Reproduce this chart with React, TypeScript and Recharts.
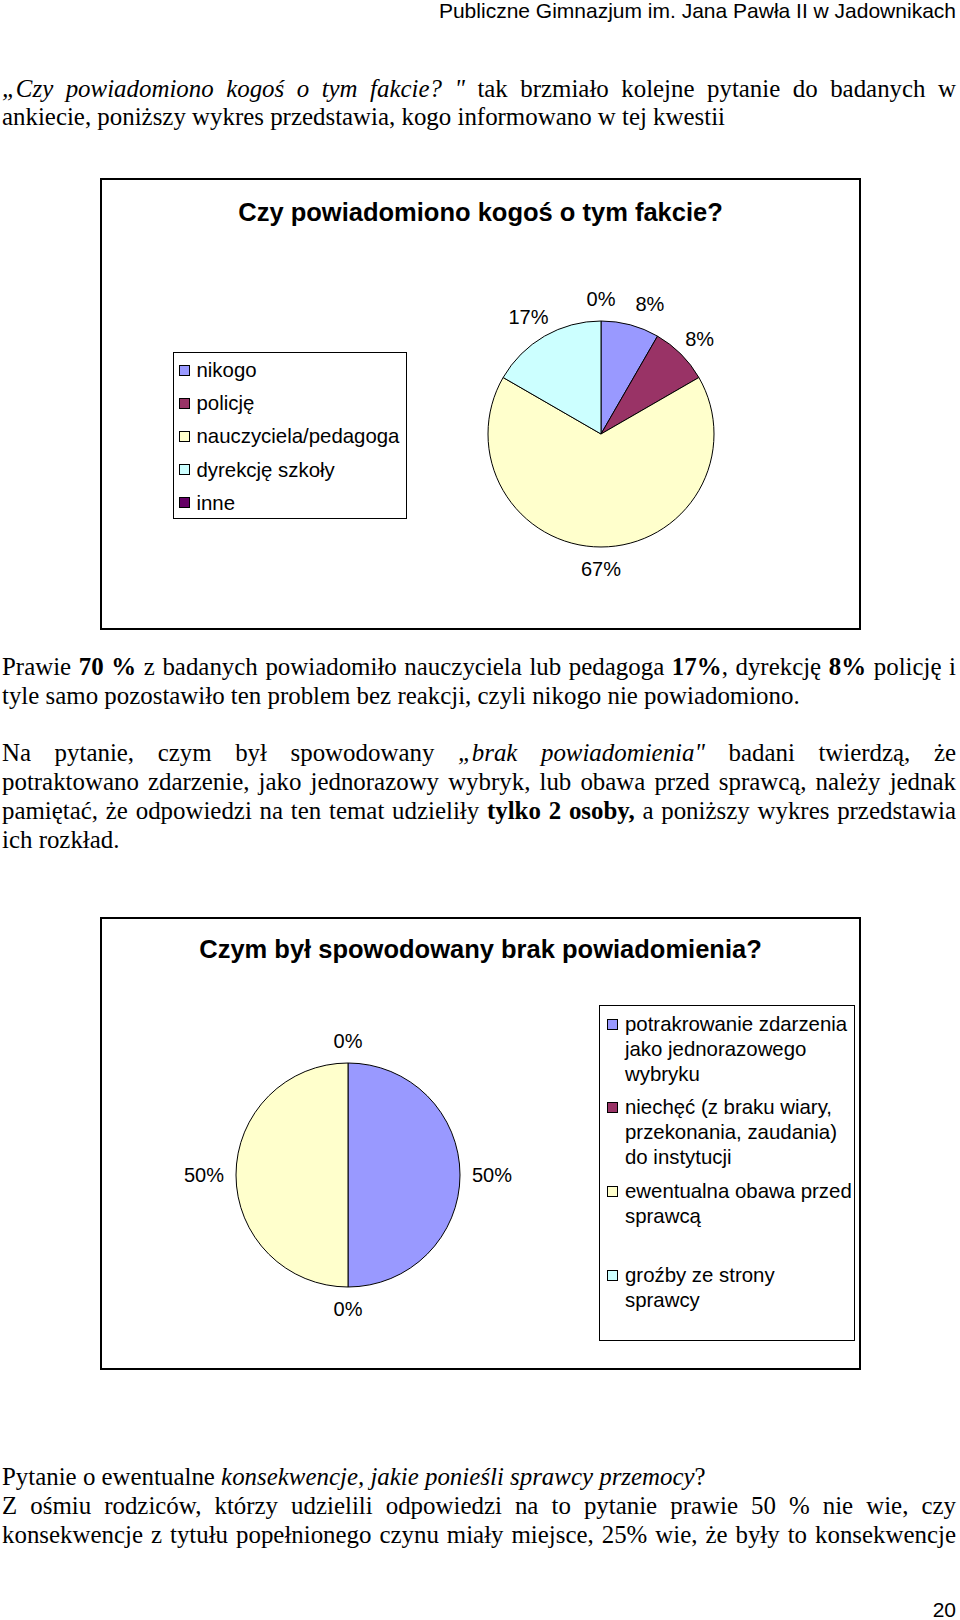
import { PieChart, Pie, Cell, Legend } from "recharts";

const SERIF = '"Liberation Serif", "Times New Roman", serif';
const SANS = '"Liberation Sans", Arial, sans-serif';

const headerText = "Publiczne Gimnazjum im. Jana Pawła II w Jadownikach";
const pageNumber = "20";

// chart 1: who was informed (answers out of 12)
const q1Title = "Czy powiadomiono kogoś o tym fakcie?";
const q1Categories = ["nikogo", "policję", "nauczyciela/pedagoga", "dyrekcję szkoły", "inne"];
const q1Counts = [1, 1, 8, 2, 0];
const q1Colors = ["#9999FF", "#993366", "#FFFFCC", "#CCFFFF", "#660066"];

// chart 2: reason for not informing anyone (2 answers)
const q2Title = "Czym był spowodowany brak powiadomienia?";
const q2Categories = [
  "potrakrowanie zdarzenia\njako jednorazowego\nwybryku",
  "niechęć (z braku wiary,\nprzekonania, zaudania)\ndo instytucji",
  "ewentualna obawa przed\nsprawcą",
  "groźby ze strony\nsprawcy",
];
const q2Counts = [1, 0, 1, 0];
const q2Colors = ["#9999FF", "#993366", "#FFFFCC", "#CCFFFF"];

const q1Data = q1Categories.map((name, i) => ({ name, value: q1Counts[i] }));
const q2Data = q2Categories.map((name, i) => ({ name, value: q2Counts[i] }));

const BODY_FS = 24.9;
const LABEL_FS = 20;
const LEGEND_FS = 20.4;
const LABEL_GAP = 12;
const MIN_SEP = 20;

const textW = (s: string) => {
  let w = 0;
  for (const ch of s) w += ch === "%" ? 0.889 : 0.556;
  return w * LABEL_FS;
};

// Excel-like outside labels: push a label sideways when it crowds a neighbour
function labelNudges(values: number[], r: number) {
  const total = values.reduce((a, b) => a + b, 0);
  let acc = 0;
  const boxes = values.map((v, i) => {
    const a0 = 90 - (acc / total) * 360;
    acc += v;
    const a1 = 90 - (acc / total) * 360;
    const m = ((a0 + a1) / 2) * (Math.PI / 180);
    const w = textW(Math.round((v / total) * 100) + "%");
    const h = LABEL_FS;
    const c = Math.cos(m);
    const s = Math.sin(m);
    return { i, w, h, c, x: (r + LABEL_GAP) * c + (w / 2) * c, y: -(r + LABEL_GAP) * s - (h / 2) * s };
  });
  const dx = values.map(() => 0);
  const placed: typeof boxes = [];
  [...boxes]
    .sort((a, b) => Math.abs(a.c) - Math.abs(b.c))
    .forEach((b) => {
      placed.forEach((p) => {
        if (Math.abs(b.y - p.y) >= (b.h + p.h) / 2) return;
        const bx = b.x + dx[b.i];
        const px = p.x + dx[p.i];
        const gap = Math.abs(bx - px) - (b.w + p.w) / 2;
        if (gap < MIN_SEP) dx[b.i] += (bx >= px ? 1 : -1) * (MIN_SEP - gap);
      });
      placed.push(b);
    });
  return dx;
}

const makeLabel = (values: number[], r: number) => {
  const nudges = labelNudges(values, r);
  return (props: any) => {
    const { cx, cy, midAngle, outerRadius, percent, index } = props;
    const text = Math.round(percent * 100) + "%";
    const rad = (-midAngle * Math.PI) / 180;
    const c = Math.cos(rad);
    const s = Math.sin(rad);
    const x = cx + (outerRadius + LABEL_GAP) * c + (textW(text) / 2) * c + nudges[index];
    const y = cy + (outerRadius + LABEL_GAP) * s + (LABEL_FS / 2) * s;
    return (
      <text key={index} x={x} y={y} textAnchor="middle" dominantBaseline="central" fontFamily={SANS} fontSize={LABEL_FS} fill="#000">
        {text}
      </text>
    );
  };
};

function Legend1Box() {
  return (
    <div style={{ width: 234, height: 167, border: "1.5px solid #000", boxSizing: "border-box", background: "#fff", paddingTop: 0.5 }}>
      {q1Categories.map((c, i) => (
        <div key={c} style={{ height: 33.2, display: "flex", alignItems: "center" }}>
          <span style={{ marginLeft: 4.5, width: 11, height: 11, border: "1px solid #000", background: q1Colors[i], boxSizing: "border-box", flex: "none" }} />
          <span style={{ marginLeft: 7, fontFamily: SANS, fontSize: LEGEND_FS, color: "#000", lineHeight: "22px", whiteSpace: "nowrap" }}>{c}</span>
        </div>
      ))}
    </div>
  );
}

function Legend2Box() {
  return (
    <div style={{ width: 256, height: 336, border: "1.5px solid #000", boxSizing: "border-box", background: "#fff", paddingTop: 5.5 }}>
      {q2Categories.map((c, i) => (
        <div key={c} style={{ height: 83.7, display: "flex", alignItems: "flex-start" }}>
          <span style={{ marginLeft: 6.5, marginTop: 7, width: 11, height: 11, border: "1px solid #000", background: q2Colors[i], boxSizing: "border-box", flex: "none" }} />
          <span style={{ marginLeft: 7.5, fontFamily: SANS, fontSize: LEGEND_FS, color: "#000", lineHeight: "25px", whiteSpace: "pre-line" }}>{c}</span>
        </div>
      ))}
    </div>
  );
}

function Line({ center, justify, children }: { center: number; justify?: boolean; children: any }) {
  return (
    <div
      style={{
        position: "absolute",
        left: 2,
        width: 954,
        top: center - 15,
        height: 29,
        lineHeight: "29px",
        fontFamily: SERIF,
        fontSize: BODY_FS,
        color: "#000",
        textAlign: justify ? "justify" : "left",
        textAlignLast: justify ? "justify" : "auto",
      }}
    >
      {children}
    </div>
  );
}

const boxStyle = (top: number, height: number): any => ({
  position: "absolute",
  left: 100,
  top,
  width: 761,
  height,
  border: "2px solid #000",
  boxSizing: "border-box",
  background: "#fff",
});

const titleStyle = (center: number): any => ({
  position: "absolute",
  left: 0,
  width: 757,
  top: center - 15,
  lineHeight: "30px",
  textAlign: "center",
  fontFamily: SANS,
  fontWeight: "bold",
  fontSize: 25.5,
  color: "#000",
});

export default function App() {
  return (
    <div style={{ position: "absolute", left: 0, top: 0, width: 960, height: 1620, background: "#fff", overflow: "hidden" }}>
      <div style={{ position: "absolute", right: 4, top: -1, fontFamily: SANS, fontSize: 21, lineHeight: "24px", color: "#000" }}>{headerText}</div>

      <Line center={89} justify>
        <i>„Czy powiadomiono kogoś o tym fakcie? "</i> tak brzmiało kolejne pytanie do badanych w
      </Line>
      <Line center={117}>ankiecie, poniższy wykres przedstawia, kogo informowano w tej kwestii</Line>

      <div style={boxStyle(178, 452)}>
        <div style={titleStyle(32)}>{q1Title}</div>
        <div style={{ position: "absolute", left: 0, top: 0 }}>
          <PieChart width={757} height={448} margin={{ top: 0, right: 0, bottom: 0, left: 0 }}>
            <Pie
              data={q1Data}
              dataKey="value"
              nameKey="name"
              cx={499}
              cy={254}
              outerRadius={113}
              startAngle={90}
              endAngle={-270}
              stroke="#000"
              strokeWidth={1}
              labelLine={false}
              label={makeLabel(q1Counts, 113)}
              isAnimationActive={false}
            >
              {q1Data.map((d, i) => (
                <Cell key={d.name} fill={q1Colors[i]} />
              ))}
            </Pie>
            <Legend layout="vertical" align="center" verticalAlign="middle" content={() => <Legend1Box />} wrapperStyle={{ left: 71, top: 172, width: 234, height: 167 }} />
          </PieChart>
        </div>
      </div>

      <Line center={667} justify>
        Prawie <b>70 %</b> z badanych powiadomiło nauczyciela lub pedagoga <b>17%</b>, dyrekcję <b>8%</b> policję i
      </Line>
      <Line center={696}>tyle samo pozostawiło ten problem bez reakcji, czyli nikogo nie powiadomiono.</Line>

      <Line center={753} justify>
        Na pytanie, czym był spowodowany <i>„brak powiadomienia"</i> badani twierdzą, że
      </Line>
      <Line center={782} justify>
        potraktowano zdarzenie, jako jednorazowy wybryk, lub obawa przed sprawcą, należy jednak
      </Line>
      <Line center={811} justify>
        pamiętać, że odpowiedzi na ten temat udzieliły <b>tylko 2 osoby,</b> a poniższy wykres przedstawia
      </Line>
      <Line center={840}>ich rozkład.</Line>

      <div style={boxStyle(917, 453)}>
        <div style={titleStyle(30)}>{q2Title}</div>
        <div style={{ position: "absolute", left: 0, top: 0 }}>
          <PieChart width={757} height={449} margin={{ top: 0, right: 0, bottom: 0, left: 0 }}>
            <Pie
              data={q2Data}
              dataKey="value"
              nameKey="name"
              cx={246}
              cy={256}
              outerRadius={112}
              startAngle={90}
              endAngle={-270}
              stroke="#000"
              strokeWidth={1}
              labelLine={false}
              label={makeLabel(q2Counts, 112)}
              isAnimationActive={false}
            >
              {q2Data.map((d, i) => (
                <Cell key={d.name} fill={q2Colors[i]} />
              ))}
            </Pie>
            <Legend layout="vertical" align="center" verticalAlign="middle" content={() => <Legend2Box />} wrapperStyle={{ left: 497, top: 86, width: 256, height: 336 }} />
          </PieChart>
        </div>
      </div>

      <Line center={1477}>
        Pytanie o ewentualne <i>konsekwencje, jakie ponieśli sprawcy przemocy</i>?
      </Line>
      <Line center={1506} justify>
        Z ośmiu rodziców, którzy udzielili odpowiedzi na to pytanie prawie 50 % nie wie, czy
      </Line>
      <Line center={1535} justify>
        konsekwencje z tytułu popełnionego czynu miały miejsce, 25% wie, że były to konsekwencje
      </Line>

      <div style={{ position: "absolute", right: 4, top: 1598, fontFamily: SANS, fontSize: 21, lineHeight: "24px", color: "#000" }}>{pageNumber}</div>
    </div>
  );
}
